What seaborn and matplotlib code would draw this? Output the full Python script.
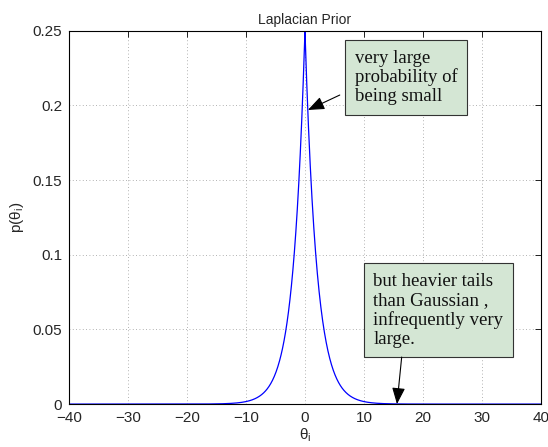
import numpy as np
import pandas as pd
import matplotlib
matplotlib.use("Agg")
import matplotlib.pyplot as plt
import seaborn as sns

# Laplacian prior: peak 0.25 at 0 -> scale b = 2
peak_density = 0.25
scale_b = 2.0
theta_range = [-40, 40]

x_ticks = [-40, -30, -20, -10, 0, 10, 20, 30, 40]
y_ticks = [0, 0.05, 0.1, 0.15, 0.2, 0.25]
y_tick_labels = ["0", "0.05", "0.1", "0.15", "0.2", "0.25"]

note_top = "very large\nprobability of\nbeing small"
note_bottom = "but heavier tails\nthan Gaussian ,\ninfrequently very\nlarge."

theta = np.linspace(theta_range[0], theta_range[1], 1601)
df = pd.DataFrame({"theta": theta,
                   "p": peak_density * np.exp(-np.abs(theta) / scale_b)})

sns.set_style("white")
plt.rcParams['font.family'] = ['Liberation Sans', 'DejaVu Sans']
plt.rcParams['xtick.direction'] = 'in'
plt.rcParams['ytick.direction'] = 'in'

fig = plt.figure(figsize=(5.48, 4.47), dpi=100)
ax = fig.add_axes([0.126, 0.096, 0.861, 0.835])

sns.lineplot(data=df, x="theta", y="p", ax=ax, color="#0000ff", linewidth=0.9)

ax.set_xlim(theta_range)
ax.set_ylim(0, 0.25)
ax.set_xticks(x_ticks)
ax.set_xticklabels([f"{t}".replace("-", "\u2212") for t in x_ticks])
ax.set_yticks(y_ticks)
ax.set_yticklabels(y_tick_labels)
ax.tick_params(labelsize=11, length=4, width=0.6, color="black",
               top=True, right=True)
ax.tick_params(axis="x", pad=5)
ax.tick_params(axis="y", pad=5)
ax.grid(True, linestyle=(0, (1, 3)), color="#999999", linewidth=0.6)
for s in ax.spines.values():
    s.set_color("black")
    s.set_linewidth(0.8)

ax.set_title("Laplacian Prior", fontsize=10, pad=5)
ax.set_xlabel("θ$_\\mathregular{i}$", fontsize=11, labelpad=1)
ax.set_ylabel("p(θ$_\\mathregular{i}$)", fontsize=11, labelpad=5)

box = dict(boxstyle="square,pad=0.5", facecolor="#d4e6d4",
           edgecolor="#333333", linewidth=0.8)
arrow = dict(arrowstyle="-|>,head_length=1.0,head_width=0.4",
             color="black", linewidth=0.8, shrinkA=0, shrinkB=0)

ax.text(8.4, 0.2375, note_top, fontsize=13.5, family=['Liberation Serif'],
        va="top", ha="left", bbox=box, linespacing=1.15, color="#111111")
ax.annotate("", xy=(0.5, 0.197), xytext=(5.9, 0.207), arrowprops=arrow)

ax.text(11.6, 0.088, note_bottom, fontsize=13.5, family=['Liberation Serif'],
        va="top", ha="left", bbox=box, linespacing=1.15, color="#111111")
ax.annotate("", xy=(15.6, 0.0), xytext=(16.4, 0.0315), arrowprops=arrow)

fig.savefig("out.png", dpi=100)
